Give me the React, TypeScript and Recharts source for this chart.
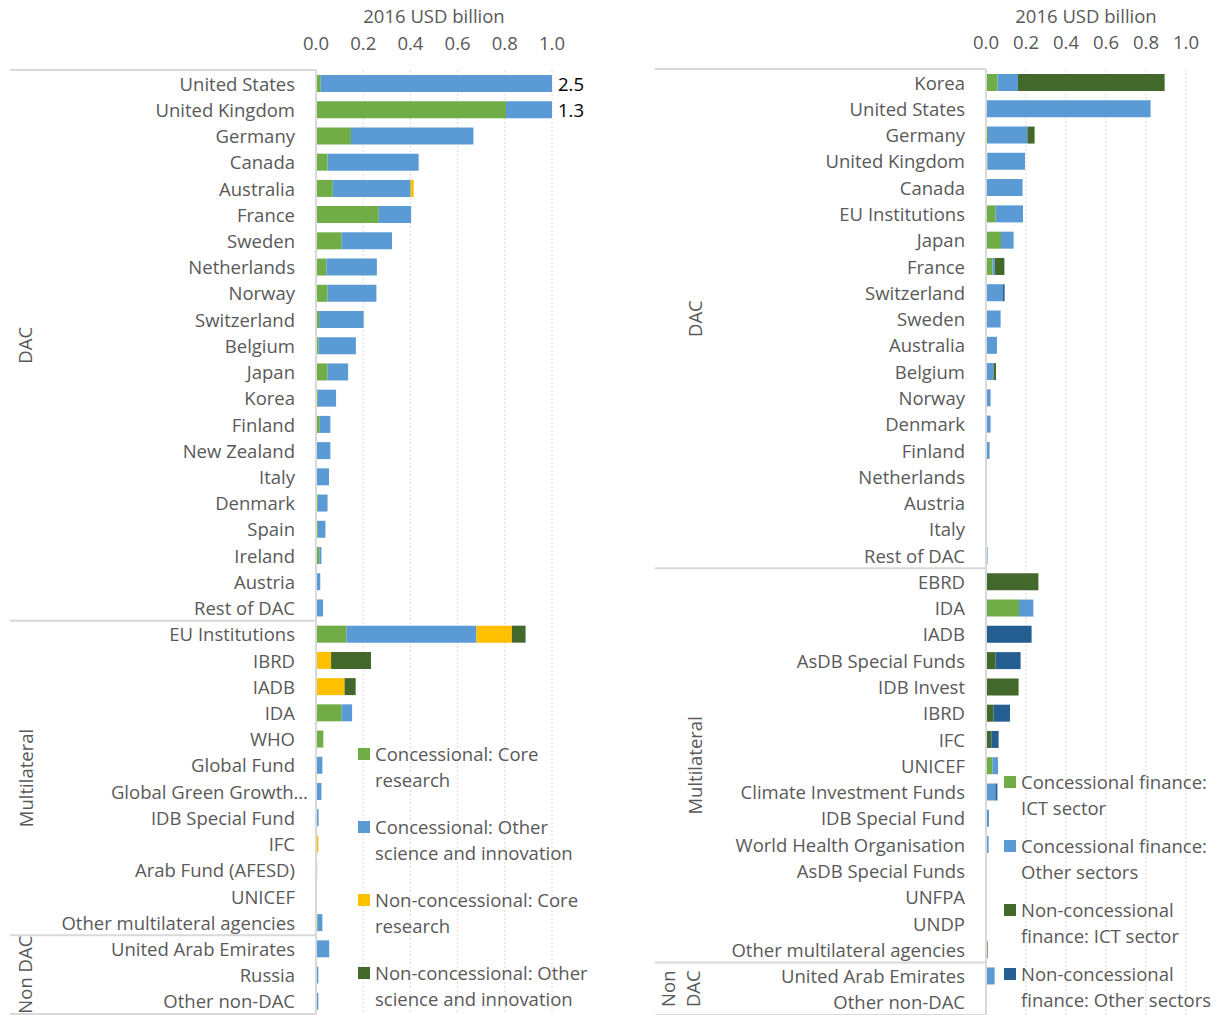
import React from "react";
import { Bar, BarChart, CartesianGrid, LabelList, Legend, XAxis, YAxis } from "recharts";

// ---- left panel: science & innovation ----
const leftNames = [
  "United States", "United Kingdom", "Germany", "Canada", "Australia", "France", "Sweden",
  "Netherlands", "Norway", "Switzerland", "Belgium", "Japan", "Korea", "Finland", "New Zealand",
  "Italy", "Denmark", "Spain", "Ireland", "Austria", "Rest of DAC",
  "EU Institutions", "IBRD", "IADB", "IDA", "WHO", "Global Fund", "Global Green Growth…",
  "IDB Special Fund", "IFC", "Arab Fund (AFESD)", "UNICEF", "Other multilateral agencies",
  "United Arab Emirates", "Russia", "Other non-DAC",
];
const leftGroups = ["DAC", "Multilateral", "Non DAC"];
const leftGroupSizes = [21, 12, 3];

const leftConcCore = [
  0.02, 0.805, 0.148, 0.049, 0.071, 0.266, 0.109, 0.044, 0.049, 0.013, 0.011, 0.049, 0.008, 0.016,
  0, 0.004, 0.008, 0.008, 0.014, 0, 0,
  0.129, 0, 0, 0.109, 0.031, 0, 0, 0, 0, 0.005, 0, 0.007,
  0, 0, 0,
];
const leftConcOther = [
  2.48, 0.495, 0.519, 0.386, 0.33, 0.137, 0.213, 0.214, 0.207, 0.189, 0.158, 0.087, 0.077, 0.045,
  0.061, 0.051, 0.041, 0.032, 0.009, 0.018, 0.03,
  0.551, 0, 0, 0.044, 0, 0.027, 0.023, 0.011, 0, 0, 0.004, 0.02,
  0.056, 0.01, 0.01,
];
const leftNonConcCore = [
  0, 0, 0, 0, 0.013, 0, 0, 0, 0, 0, 0, 0, 0, 0, 0, 0, 0, 0, 0, 0, 0,
  0.15, 0.064, 0.121, 0, 0, 0, 0, 0, 0.01, 0, 0, 0,
  0, 0, 0,
];
const leftNonConcOther = [
  0, 0, 0, 0, 0, 0, 0, 0, 0, 0, 0, 0, 0, 0, 0, 0, 0, 0, 0, 0, 0,
  0.058, 0.169, 0.047, 0, 0, 0, 0, 0, 0, 0, 0, 0,
  0, 0, 0,
];

// ---- right panel: ICT ----
const rightNames = [
  "Korea", "United States", "Germany", "United Kingdom", "Canada", "EU Institutions", "Japan",
  "France", "Switzerland", "Sweden", "Australia", "Belgium", "Norway", "Denmark", "Finland",
  "Netherlands", "Austria", "Italy", "Rest of DAC",
  "EBRD", "IDA", "IADB", "AsDB Special Funds", "IDB Invest", "IBRD", "IFC", "UNICEF",
  "Climate Investment Funds", "IDB Special Fund", "World Health Organisation", "AsDB Special Funds",
  "UNFPA", "UNDP", "Other multilateral agencies",
  "United Arab Emirates", "Other non-DAC",
];
const rightGroups = ["DAC", "Multilateral", "Non DAC"];
const rightGroupSizes = [19, 15, 2];

const rightConcIct = [
  0.058, 0, 0.01, 0.007, 0, 0.048, 0.075, 0.032, 0, 0, 0, 0, 0, 0.005, 0, 0, 0, 0, 0,
  0, 0.165, 0, 0, 0, 0, 0, 0.032, 0, 0, 0, 0.005, 0, 0, 0,
  0, 0,
];
const rightConcOther = [
  0.102, 0.823, 0.197, 0.188, 0.183, 0.137, 0.063, 0.011, 0.085, 0.073, 0.055, 0.038, 0.023,
  0.018, 0.018, 0.002, 0, 0, 0.008,
  0, 0.072, 0, 0, 0, 0, 0, 0.028, 0.047, 0.015, 0.013, 0, 0.002, 0.002, 0,
  0.043, 0,
];
const rightNonConcIct = [
  0.733, 0, 0.036, 0, 0, 0, 0, 0.049, 0, 0, 0, 0.012, 0, 0, 0, 0, 0, 0, 0,
  0.262, 0, 0, 0.048, 0.163, 0.038, 0.027, 0, 0, 0, 0, 0, 0, 0, 0.008,
  0, 0,
];
const rightNonConcOther = [
  0, 0, 0, 0, 0, 0, 0, 0, 0.008, 0, 0, 0, 0, 0, 0, 0, 0, 0, 0,
  0, 0, 0.228, 0.125, 0, 0.082, 0.036, 0, 0.01, 0, 0, 0, 0, 0, 0,
  0, 0,
];

const xTicks = [0, 0.2, 0.4, 0.6, 0.8, 1.0];

const FONT = "'Open Sans', 'Noto Sans', sans-serif";
const FS = 18.5;
const GREY = "#595959";
const LINE = "#d9d9d9";
const C_GREEN = "#70ad47";
const C_BLUE = "#5b9bd5";
const C_YELLOW = "#ffc000";
const C_DKGREEN = "#43682b";
const C_NAVY = "#255e91";

type PanelCfg = {
  left: number;
  width: number;
  height: number;
  axisWidth: number; // y axis width = plot left
  plotWidth: number;
  topH: number;
  bottom: number;
  frameX: number;
  groupX: number[][]; // x for each line of each group label
  groupLines: string[][];
  groupSizes: number[];
  names: string[];
  legendLeft: number;
  legendTop: number;
  legendWidth: number;
  legendGap: number;
};

function makeTick(cfg: PanelCfg) {
  const n = cfg.names.length;
  const band = (cfg.height - cfg.topH - cfg.bottom) / n;
  const starts: number[] = [];
  let acc = 0;
  cfg.groupSizes.forEach((s) => {
    starts.push(acc);
    acc += s;
  });
  return (p: any) => {
    const i = Number(p.payload.value);
    const y = p.y;
    const g = starts.indexOf(i);
    const parts: React.ReactNode[] = [];
    if (g >= 0) {
      const top = y - band / 2;
      parts.push(
        <line key="l" x1={cfg.frameX} x2={cfg.axisWidth} y1={top} y2={top} stroke={LINE} strokeWidth={2} />
      );
      const cy = top + (cfg.groupSizes[g] * band) / 2;
      cfg.groupLines[g].forEach((txt, k) => {
        const gx = cfg.groupX[g][k];
        parts.push(
          <text
            key={"g" + k}
            x={gx}
            y={cy}
            transform={`rotate(-90 ${gx} ${cy})`}
            textAnchor="middle"
            dominantBaseline="central"
            fill={GREY}
            fontSize={FS}
          >
            {txt}
          </text>
        );
      });
    }
    if (i === n - 1) {
      const bot = y + band / 2;
      parts.push(
        <line key="b" x1={cfg.frameX} x2={cfg.axisWidth} y1={bot} y2={bot} stroke={LINE} strokeWidth={2} />
      );
    }
    const name = cfg.names[i];
    // excel lets the truncated label run past the usual right edge
    const tx = name.endsWith("…") ? p.x + 13 : p.x;
    return (
      <g>
        {parts}
        <text x={tx} y={y} textAnchor="end" dominantBaseline="central" fill={GREY} fontSize={FS}>
          {name}
        </text>
      </g>
    );
  };
}

function LegendBox({ payload, width, gap }: { payload?: any[]; width: number; gap: number }) {
  return (
    <div style={{ width, fontFamily: FONT, fontSize: FS, color: GREY }}>
      {(payload || []).map((e: any) => (
        <div key={e.value} style={{ display: "flex", marginBottom: gap }}>
          <span
            style={{ flex: "0 0 12px", height: 12, background: e.color, marginTop: 7, marginRight: 5 }}
          />
          <span style={{ lineHeight: "26px" }}>{e.value}</span>
        </div>
      ))}
    </div>
  );
}

type Series = { key: string; name: string; color: string; values: number[] };

function Panel({ cfg, series }: { cfg: PanelCfg; series: Series[] }) {
  const data = cfg.names.map((_, i) => {
    const row: Record<string, number | string> = { id: String(i) };
    let total = 0;
    series.forEach((s) => {
      row[s.key] = s.values[i];
      total += s.values[i];
    });
    row.total = Math.round(total * 10) / 10;
    return row;
  });
  const plotRight = cfg.axisWidth + cfg.plotWidth;
  return (
    <div style={{ position: "absolute", left: cfg.left, top: 0 }}>
      <BarChart
        width={cfg.width}
        height={cfg.height}
        data={data}
        layout="vertical"
        barSize={17}
        margin={{ top: 0, right: cfg.width - plotRight, bottom: cfg.bottom, left: 0 }}
      >
        <CartesianGrid horizontal={false} stroke={LINE} strokeDasharray="2 2" />
        <XAxis
          type="number"
          orientation="top"
          domain={[0, 1]}
          ticks={xTicks}
          allowDataOverflow
          height={cfg.topH}
          axisLine={false}
          tickLine={false}
          tickSize={0}
          tickMargin={20}
          tick={{ fill: GREY, fontSize: FS }}
          tickFormatter={(v: number) => v.toFixed(1)}
          label={{ value: "2016 USD billion", position: "insideTop", offset: 10, fill: GREY, fontSize: FS }}
        />
        <YAxis
          type="category"
          dataKey="id"
          width={cfg.axisWidth}
          interval={0}
          axisLine={{ stroke: LINE, strokeWidth: 2 }}
          tickLine={false}
          tickSize={0}
          tickMargin={21}
          tick={makeTick(cfg)}
        />
        <Legend
          layout="vertical"
          align="center"
          verticalAlign="middle"
          wrapperStyle={{ left: cfg.legendLeft, top: cfg.legendTop, width: cfg.legendWidth }}
          content={(p: any) => <LegendBox payload={p.payload} width={cfg.legendWidth} gap={cfg.legendGap} />}
        />
        {series.map((s, k) => (
          <Bar key={s.key} dataKey={s.key} name={s.name} stackId="a" fill={s.color} isAnimationActive={false}>
            {k === 1 ? (
              <LabelList
                dataKey="total"
                content={(p: any) => {
                  const v = Number(p.value);
                  if (!(v > 1)) return null;
                  return (
                    <text
                      x={plotRight + 6}
                      y={Number(p.y) + Number(p.height) / 2}
                      dominantBaseline="central"
                      fill="#000"
                      fontSize={FS}
                    >
                      {v.toFixed(1)}
                    </text>
                  );
                }}
              />
            ) : null}
          </Bar>
        ))}
      </BarChart>
    </div>
  );
}

const leftCfg: PanelCfg = {
  left: 0,
  width: 600,
  height: 1015,
  axisWidth: 316,
  plotWidth: 236,
  topH: 70,
  bottom: 1,
  frameX: 10,
  groupX: [[25], [25], [25]],
  groupLines: leftGroups.map((g) => [g]),
  groupSizes: leftGroupSizes,
  names: leftNames,
  legendLeft: 358,
  legendTop: 741,
  legendWidth: 240,
  legendGap: 21,
};

const rightCfg: PanelCfg = {
  left: 640,
  width: 579,
  height: 1015,
  axisWidth: 346,
  plotWidth: 200,
  topH: 69,
  bottom: 0,
  frameX: 15,
  groupX: [[55], [55], [28, 53]],
  groupLines: rightGroups.map((g) => g.split(" ")),
  groupSizes: rightGroupSizes,
  names: rightNames,
  legendLeft: 364,
  legendTop: 769,
  legendWidth: 215,
  legendGap: 12,
};

export default function App() {
  const leftSeries: Series[] = [
    { key: "cc", name: "Concessional: Core research", color: C_GREEN, values: leftConcCore },
    { key: "co", name: "Concessional: Other science and innovation", color: C_BLUE, values: leftConcOther },
    { key: "nc", name: "Non-concessional: Core research", color: C_YELLOW, values: leftNonConcCore },
    { key: "no", name: "Non-concessional: Other science and innovation", color: C_DKGREEN, values: leftNonConcOther },
  ];
  const rightSeries: Series[] = [
    { key: "ci", name: "Concessional finance: ICT sector", color: C_GREEN, values: rightConcIct },
    { key: "co", name: "Concessional finance: Other sectors", color: C_BLUE, values: rightConcOther },
    { key: "ni", name: "Non-concessional finance: ICT sector", color: C_DKGREEN, values: rightNonConcIct },
    { key: "no", name: "Non-concessional finance: Other sectors", color: C_NAVY, values: rightNonConcOther },
  ];
  return (
    <div
      style={{
        position: "absolute",
        left: 0,
        top: 0,
        width: 1219,
        height: 1015,
        background: "#fff",
        fontFamily: FONT,
        overflow: "hidden",
      }}
    >
      <Panel cfg={leftCfg} series={leftSeries} />
      <Panel cfg={rightCfg} series={rightSeries} />
    </div>
  );
}
